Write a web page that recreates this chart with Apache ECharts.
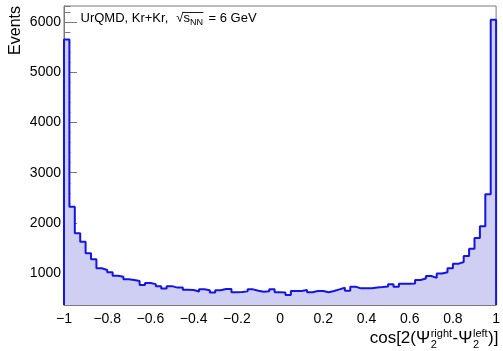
<!DOCTYPE html>
<html><head><meta charset="utf-8">
<script src="https://cdn.jsdelivr.net/npm/echarts@6/dist/echarts.min.js"></script>
<style>html,body{margin:0;padding:0;background:#fff}#c{width:503px;height:351px}</style>
</head><body><div id="c"></div>
<script>
// ---- data ----
const xMin = -1, xMax = 1, binWidth = 0.025;
const counts = [
  5650, 2325, 1796, 1629, 1398, 1279, 1100, 1066, 1020, 952,
  932, 880, 866, 846, 767, 808, 785, 745, 697, 745,
  716, 716, 675, 668, 638, 681, 665, 618, 665, 688,
  688, 622, 628, 641, 681, 655, 634, 641, 681, 622,
  620, 570, 647, 647, 668, 622, 647, 647, 622, 647,
  681, 713, 654, 733, 701, 701, 701, 720, 727, 740,
  785, 733, 793, 793, 796, 866, 896, 946, 910, 996,
  1022, 1103, 1188, 1225, 1344, 1490, 1702, 1935, 2572, 6040
];
const yMin = 370, yMax = 6315;
const titleText = 'UrQMD, Kr+Kr,';
const yTitle = 'Events';

// ---- build step outline ----
const pts = [[xMin, yMin]];
counts.forEach((c, i) => pts.push([+(xMin + i * binWidth).toFixed(4), c]));
pts.push([xMax, counts[counts.length - 1]]);
pts.push([xMax, yMin]);

const FONT = '"Liberation Sans", Arial, Helvetica, sans-serif';
const AX = '#7a7a7a';
const minus = v => String(+v.toFixed(2)).replace('-', '\u2212');

// text measurement helper for composed labels
const mctx = document.createElement('canvas').getContext('2d');
function tw(t, fs) { mctx.font = fs + 'px ' + FONT; return mctx.measureText(t).width; }
function txt(t, x, base, fs, extra) {
  return Object.assign({ type: 'text', x: x, y: base - 0.35 * fs,
    style: { text: t, font: fs + 'px ' + FONT, fill: '#000', align: 'left', verticalAlign: 'middle' } }, extra || {});
}

const graphics = [];
// top-left label
(function () {
  const fs = 13, base = 23; let x = 80.5;
  graphics.push(txt(titleText, x, base, fs)); x += tw(titleText, fs) + 8;
  const sq = '\u221A';
  graphics.push(txt(sq, x, base, fs)); x += tw(sq, fs);
  const sx0 = x;
  graphics.push(txt('s', x, base, fs)); x += tw('s', fs);
  graphics.push(txt('NN', x, base + 3, 9)); x += tw('NN', 9);
  graphics.push({ type: 'line', shape: { x1: sx0 - 0.5, y1: 12.5, x2: x + 0.5, y2: 12.5 }, style: { stroke: '#000', lineWidth: 0.9 } });
  x += 2;
  graphics.push(txt(' = 6 GeV', x, base, fs));
})();
// x-axis title
(function () {
  const fs = 17, ss = 11, base = 344, supB = 337.5, subB = 348.5;
  const parts = [
    { t: 'cos[2(' }, { t: '\u03A8' }, { sup: 'right', sub: '2' },
    { t: '-\u03A8' }, { sup: 'left', sub: '2' }, { t: ')]' }
  ];
  const w = p => p.t ? tw(p.t, fs) : Math.max(tw(p.sup, ss), tw(p.sub, ss)) + 1;
  let total = parts.reduce((a, p) => a + w(p), 0);
  let x = 498.5 - total;
  parts.forEach(p => {
    if (p.t) graphics.push(txt(p.t, x, base, fs));
    else { graphics.push(txt(p.sup, x + 0.5, supB, ss)); graphics.push(txt(p.sub, x + 0.5, subB, ss)); }
    x += w(p);
  });
})();
// y-axis title
graphics.push({ type: 'text', x: 16, y: 6, rotation: Math.PI / 2,
  style: { text: yTitle, font: '16px ' + FONT, fill: '#000', align: 'right', verticalAlign: 'middle' } });

const gridRect = { left: 64, right: 5, top: 6, bottom: 46 };
const chart = echarts.init(document.getElementById('c'), null, { renderer: 'canvas' });
chart.setOption({
  animation: false,
  backgroundColor: '#fff',
  graphic: graphics,
  grid: [
    Object.assign({ show: true, borderColor: AX, borderWidth: 1, backgroundColor: 'transparent' }, gridRect),
    Object.assign({ show: false }, gridRect)
  ],
  xAxis: [{
    type: 'value', gridIndex: 0, min: xMin, max: xMax, interval: 0.2,
    axisLine: { show: true, onZero: false, lineStyle: { color: AX, width: 1 } },
    axisTick: { show: true, inside: true, length: 9, lineStyle: { color: AX } },
    minorTick: { show: true, splitNumber: 4, length: 4.5, lineStyle: { color: AX } },
    splitLine: { show: false },
    axisLabel: { margin: 7, fontSize: 14, color: '#000', fontFamily: FONT, formatter: minus, hideOverlap: false }
  }, {
    type: 'value', gridIndex: 1, min: xMin, max: xMax, show: false,
    axisLine: { show: false, onZero: false }
  }],
  yAxis: [{
    type: 'value', gridIndex: 0, min: yMin, max: yMax, splitNumber: 5,
    axisLine: { show: true, onZero: false, lineStyle: { color: AX, width: 1 } },
    axisTick: { show: true, inside: true, length: 13, lineStyle: { color: AX } },
    splitLine: { show: false },
    axisLabel: { margin: 3, fontSize: 14, color: '#000', fontFamily: FONT, showMinLabel: false, showMaxLabel: false,
      formatter: v => (v % 1000 === 0 ? String(v) : '') }
  }, {
    type: 'value', gridIndex: 1, min: yMin, max: yMax, splitNumber: 30, position: 'left',
    axisLine: { show: false, onZero: false },
    axisTick: { show: true, inside: true, length: 6.5, lineStyle: { color: AX } },
    axisLabel: { show: false }, splitLine: { show: false }
  }],
  series: [{
    type: 'line', xAxisIndex: 0, yAxisIndex: 0, data: pts, step: 'end',
    showSymbol: false, symbol: 'none',
    lineStyle: { color: '#1414e6', width: 2 },
    areaStyle: { color: '#cfcff3', opacity: 1, origin: 'start' },
    z: 1
  }]
});
</script></body></html>
